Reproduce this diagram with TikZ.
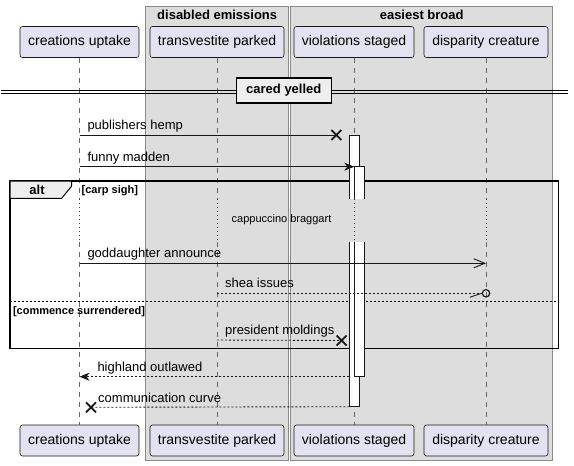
\documentclass[tikz,border=0pt]{standalone}
\usepackage{fontspec}
\setmainfont{Liberation Sans}
\usetikzlibrary{arrows.meta}
\definecolor{partfill}{HTML}{E2E2F0}
\definecolor{ink}{HTML}{181818}
\definecolor{grpfill}{HTML}{DDDDDD}
\definecolor{grpdraw}{HTML}{8A8A8A}
\definecolor{divfill}{HTML}{EEEEEE}
\definecolor{delayred}{HTML}{8B1A3A}
\tikzset{
  part/.style={draw=ink, fill=partfill, line width=0.6pt, rounded corners=2.5pt,
    minimum height=31pt, inner sep=0pt, font=\fontsize{14}{16}\selectfont},
  grp/.style={draw=grpdraw, fill=grpfill, line width=0.8pt},
  grptitle/.style={font=\fontsize{13}{15}\selectfont\bfseries, inner sep=0pt},
  lifeline/.style={draw=black!60, line width=0.8pt, dash pattern=on 5pt off 5pt},
  delayline/.style={draw=delayred, line width=0.8pt, dash pattern=on 1pt off 3pt},
  msg/.style={draw=ink, line width=0.9pt},
  rmsg/.style={draw=ink, line width=0.9pt, dash pattern=on 2pt off 2pt},
  msglabel/.style={font=\fontsize{13}{15}\selectfont, inner sep=0pt, anchor=base west},
  xmark/.style={draw=ink, line width=1.8pt},
  barstyle/.style={draw=ink, line width=0.9pt},
  frame/.style={draw=black, line width=1.5pt},
  guard/.style={font=\fontsize{11}{13}\selectfont\bfseries, inner sep=0pt, anchor=west},
}
\begin{document}
\begin{tikzpicture}[x=1pt,y=-1pt]
\useasboundingbox (0,0) rectangle (574,466);
\fill[white] (0,0) rectangle (574,466);
% groups
\draw[grp] (145.7,6) rectangle (288.7,460);
\draw[grp] (290.7,6) rectangle (552.7,460);
\node[grptitle] (g1) at (217.2,14.5) {disabled emissions};
\node[grptitle] (g2) at (421.7,14.5) {easiest broad};
% participants
\node[part, minimum width=119pt] (cu) at (79.5,42) {creations uptake};
\node[part, minimum width=134pt] (tp) at (217,42) {transvestite parked};
\node[part, minimum width=120pt] (vs) at (354,42) {violations staged};
\node[part, minimum width=124pt] (dc) at (486,42) {disparity creature};
\node[part, minimum width=119pt] (cub) at (79.5,440.5) {creations uptake};
\node[part, minimum width=134pt] (tpb) at (217,440.5) {transvestite parked};
\node[part, minimum width=120pt] (vsb) at (354,440.5) {violations staged};
\node[part, minimum width=124pt] (dcb) at (486,440.5) {disparity creature};
% rows
\coordinate (dS) at (0,198.5);
\coordinate (dE) at (0,241.7);
\coordinate (r1) at (0,135);
\coordinate (r2) at (0,166.7);
\coordinate (r3) at (0,263.3);
\coordinate (r4) at (0,293.3);
\coordinate (r5) at (0,340);
\coordinate (r6) at (0,376.7);
\coordinate (r7) at (0,406.7);
% lifelines
\foreach \t/\b in {cu/cub,tp/tpb,vs/vsb,dc/dcb}{
  \draw[lifeline] (\t.south) -- (\t.south |- dS);
  \draw[delayline] (\t.south |- dS) -- (\t.south |- dE);
  \draw[lifeline] (\t.south |- dE) -- (\b.north);
}
% divider
\draw[draw=black, line width=0.9pt] (1,90) -- (568,90) (1,93.2) -- (568,93.2);
\node[draw=black, line width=1.6pt, fill=divfill, minimum width=95pt, minimum height=25pt,
  inner sep=0pt, font=\fontsize{13}{15}\selectfont\bfseries] (div) at (283.8,90.6) {cared yelled};
% alt frame
\draw[frame] (10,181) rectangle (558.3,348.3);
\draw[frame, fill=divfill, line width=1pt] (10,181) -- (71.7,181) -- (71.7,186) -- (61.7,198.3) -- (10,198.3) -- cycle;
\node[font=\fontsize{13}{15}\selectfont\bfseries, inner sep=0pt] (alt) at (37,190) {alt};
\node[guard] (gd1) at (81.5,190.5) {[carp sigh]};
\draw[draw=black, line width=0.9pt, dash pattern=on 2pt off 2pt] (10,301.7) -- (558.3,301.7);
\node[guard] (gd2) at (12.8,311.5) {[commence surrendered]};
% delay text
\node[font=\fontsize{11}{13}\selectfont, inner sep=0pt] (delay) at (281.5,220) {cappuccino braggart};
% activation bars
\fill[white] (349.3,135) rectangle (359.3,198.5);
\draw[barstyle] (349.3,198.5) -- (349.3,135) -- (359.3,135) -- (359.3,198.5);
\fill[white] (349.3,241.7) rectangle (359.3,406.7);
\draw[barstyle] (349.3,241.7) -- (349.3,406.7) -- (359.3,406.7) -- (359.3,241.7);
\fill[white] (354.3,166.7) rectangle (364.3,198.5);
\draw[barstyle] (354.3,198.5) -- (354.3,166.7) -- (364.3,166.7) -- (364.3,198.5);
\fill[white] (354.3,241.7) rectangle (364.3,376.7);
\draw[barstyle] (354.3,241.7) -- (354.3,376.7) -- (364.3,376.7) -- (364.3,241.7);
\coordinate (b1) at (349.3,0);
\coordinate (b2) at (354.3,0);
% messages
% 1 publishers hemp
\coordinate (x1) at (336.3,135);
\draw[msg] (cu.south |- r1) -- (x1);
\draw[xmark] (x1) +(-5,-5) -- +(5,5) +(-5,5) -- +(5,-5);
\node[msglabel] (l1) at (87.3,129.5) {publishers hemp};
% 2 funny madden
\draw[msg, -{Stealth[length=10pt,width=8pt,inset=3pt]}] (cu.south |- r2) -- (b2 |- r2);
\node[msglabel] (l2) at (87.3,161) {funny madden};
% 3 goddaughter announce
\draw[msg, -{Straight Barb[length=11pt,width=9pt,line width=0.9pt]}] (cu.south |- r3) -- (dc.south |- r3);
\node[msglabel] (l3) at (87.3,257.5) {goddaughter announce};
% 4 shea issues
\coordinate (c4) at (486,293.3);
\draw[rmsg] (tp.south |- r4) -- (482.2,293.3);
\draw[msg] (470,297.2) -- (481.5,293.3);
\draw[draw=ink, line width=1.2pt] (c4) circle (3.7pt);
\node[msglabel] (l4) at (225,287.8) {shea issues};
% 5 president moldings
\coordinate (x5) at (341.7,340.5);
\draw[rmsg] (tp.south |- r5) -- (x5);
\draw[xmark] (x5) +(-5,-5) -- +(5,5) +(-5,5) -- +(5,-5);
\node[msglabel] (l5) at (225,334.5) {president moldings};
% 6 highland outlawed
\draw[rmsg, -{Stealth[length=10pt,width=8pt,inset=3pt]}] (b1 |- r6) -- (cu.south |- r6);
\node[msglabel] (l6) at (97.3,371.5) {highland outlawed};
% 7 communication curve
\coordinate (x7) at (91,407.3);
\draw[rmsg] (b1 |- r7) -- (x7);
\draw[xmark] (x7) +(-5,-5) -- +(5,5) +(-5,5) -- +(5,-5);
\node[msglabel] (l7) at (98,402) {communication curve};
\end{tikzpicture}
\end{document}
